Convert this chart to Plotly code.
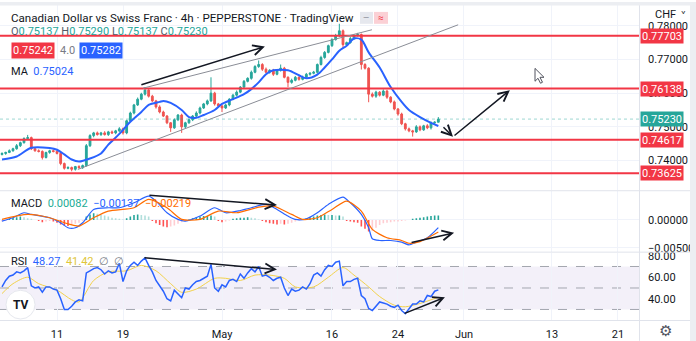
import math
from datetime import datetime, timedelta
import plotly.graph_objects as go

# ---------------- DATA (prices in units of 0.0001) ----------------
first_open = 7418
closes = [7421, 7424, 7429, 7435, 7444, 7453, 7465, 7468, 7435, 7429,
          7427, 7409, 7424, 7429, 7427, 7421, 7391, 7377, 7379, 7374,
          7382, 7379, 7385, 7444, 7474, 7482, 7477, 7482, 7477, 7485,
          7482, 7488, 7494, 7482, 7518, 7541, 7565, 7582, 7597, 7609,
          7591, 7577, 7559, 7544, 7532, 7512, 7497, 7521, 7535, 7500,
          7512, 7521, 7532, 7541, 7556, 7568, 7577, 7600, 7568, 7562,
          7556, 7565, 7582, 7594, 7603, 7618, 7635, 7644, 7662, 7679,
          7685, 7671, 7662, 7668, 7656, 7668, 7674, 7647, 7632, 7638,
          7647, 7641, 7647, 7656, 7659, 7662, 7685, 7706, 7721, 7741,
          7759, 7771, 7785, 7744, 7750, 7762, 7771, 7774, 7685, 7674,
          7597, 7591, 7603, 7594, 7606, 7588, 7574, 7553, 7538, 7509,
          7494, 7488, 7485, 7500, 7491, 7503, 7497, 7512, 7513.7, 7523]
up_wick = [3, 2, 4, 3, 5, 3, 4, 8, 3, 2,
           4, 3, 2, 3, 4, 3, 2, 3, 4, 3,
           2, 4, 3, 5, 4, 3, 4, 3, 5, 3,
           4, 3, 5, 4, 3, 4, 3, 5, 4, 9,
           3, 4, 3, 5, 4, 3, 2, 4, 3, 4,
           3, 4, 3, 5, 4, 3, 4, 47, 4, 3,
           3, 4, 3, 4, 5, 3, 4, 3, 5, 4,
           12, 4, 5, 3, 4, 3, 11, 4, 3, 5,
           4, 3, 5, 4, 3, 4, 3, 5, 4, 3,
           4, 5, 21, 4, 3, 5, 4, 5, 3, 4,
           3, 5, 4, 3, 5, 4, 3, 4, 3, 4,
           3, 4, 3, 5, 4, 3, 5, 4, 3, 6]
dn_wick = [3, 4, 2, 3, 3, 4, 3, 2, 4, 3,
           3, 6, 3, 4, 3, 3, 5, 4, 3, 6,
           4, 3, 4, 3, 4, 5, 3, 4, 3, 4,
           3, 4, 3, 5, 4, 3, 4, 3, 3, 4,
           4, 3, 5, 4, 3, 4, 12, 3, 4, 18,
           4, 3, 4, 3, 4, 3, 4, 3, 5, 4,
           12, 3, 4, 3, 4, 3, 4, 3, 4, 3,
           4, 5, 3, 4, 5, 3, 4, 3, 14, 4,
           3, 4, 3, 5, 4, 3, 4, 3, 4, 3,
           4, 3, 4, 9, 4, 3, 4, 3, 15, 4,
           24, 4, 5, 4, 3, 5, 4, 4, 5, 4,
           5, 4, 14, 3, 4, 3, 4, 5, 4, 0]

ma_bar = [0, 4, 8, 13, 15, 17, 19, 21, 24, 27, 29, 32, 35, 38, 40, 43, 44, 46, 49, 51,
          53, 55, 58, 60, 63, 66, 68, 70, 72, 74, 78, 81, 83, 86, 88, 90, 92, 94, 96, 98,
          100, 103, 106, 109, 111, 114, 117, 119]
ma_val = [7403, 7412, 7438, 7437, 7432, 7418, 7403, 7397, 7406, 7421, 7447, 7479, 7515, 7544,
          7565, 7574, 7577, 7571, 7550, 7529, 7527, 7535, 7550, 7568, 7582, 7597, 7612, 7632,
          7656, 7668, 7668, 7653, 7644, 7655, 7676, 7700, 7726, 7741, 7762, 7759, 7721, 7676,
          7618, 7574, 7550, 7529, 7512, 7502.4]

# MACD (units of 0.0001)
macd_bar = [0, 3, 6, 8, 13, 16, 18, 20, 22, 25, 29, 32, 36, 40, 42, 45, 48, 50, 54, 58,
            61, 65, 68, 72, 75, 78, 80, 83, 86, 89, 93, 95, 98, 100, 101, 103, 106, 109,
            111, 113, 116, 119]
macd_val = [-2, 4, 13, 10, 4, -5, -14, -14, -5, 19, 22, 22, 31, 43, 34, 13, 1, -2, 7, 22,
            13, 17, 22, 28, 19, 7, 1, 2, 13, 28, 41, 31, 10, -14, -34, -37, -37, -40,
            -45, -40, -32, -13.7]
sig_bar = [0, 7, 13, 18, 21, 25, 29, 36, 40, 45, 49, 54, 59, 64, 70, 74, 79, 82, 86, 90,
           94, 98, 101, 105, 109, 111, 114, 119]
sig_val = [1, 10, 4, -7, -11, 4, 16, 22, 37, 22, 1, 1, 16, 13, 23, 25, 10, 1, 4, 19,
           34, 16, -17, -32, -37, -42, -39, -21.9]
# histogram (units of 0.0001), one per bar
hist_val = [-3, -2, 2, 4, 5, 6, 5, 3,
            2, 0, -2, -4, -3, -2, -3, -5,
            -8, -10, -11, -9, -7, -5, -2,
            6, 10, 12, 11, 9, 8, 6,
            4, 3, 2, 1, 3, 6,
            9, 10, 9, 8, 6,
            -2, -6, -9, -12, -13, -12, -10,
            -7, -4, -2, 1, 3, 5,
            6, 7, 7, 8, 6,
            -2, -4, -3, -1, 2,
            3, 4, 4, 5, 4, 3,
            1, -2, -4, -6, -7, -8, -7,
            -8, -7, -5, -3, -1, 1,
            3, 5, 6, 8, 9, 10, 9, 9, 8, 8,
            6, -2, -3, -4, -5,
            -12, -16, -21, -20, -14, -9,
            -6, -5, -4, -3, -3, -2,
            -1, 0, 2, 3,
            4, 5, 6, 7, 8, 8.2]

rsi_val = [51, 57, 61, 62, 65, 64, 66, 69, 52, 50,
           51, 46, 51, 51, 49, 48, 40, 30, 30, 33,
           37, 39, 38, 64, 66, 68, 69, 67, 63, 66,
           64, 65, 73, 56, 66, 71, 74, 71, 75, 78,
           71, 65, 57, 52, 47, 40, 38, 48, 44, 41,
           50, 49, 53, 56, 57, 59, 61, 72, 50, 47,
           53, 51, 57, 58, 56, 63, 59, 64, 68, 65,
           70, 61, 62, 60, 57, 59, 60, 50, 43, 49,
           47, 48, 51, 49, 54, 62, 64, 61, 67, 71,
           70, 74, 75, 52, 56, 56, 58, 59, 43, 40,
           31, 29, 33, 37, 36, 35, 33, 32, 34, 29,
           26, 31, 35, 35, 38, 37, 43, 42, 47, 48.27]
rsima_bar = [0, 3, 7, 10, 15, 19, 21, 25, 29, 34, 38, 42, 46, 49, 53, 58, 61, 65, 69, 73,
             77, 80, 85, 89, 93, 96, 100, 103, 107, 110, 114, 119]
rsima_val = [44.8, 54, 60, 54, 48, 39, 37, 57, 65, 66, 71, 66, 54, 46, 49, 59, 59, 57, 62, 62,
             59, 51, 51, 60, 69, 62, 51, 42, 34, 32.5, 35.6, 41.42]

levels = [0.77703, 0.76138, 0.74617, 0.73625]
level_labels = ["0.77703", "0.76138", "0.74617", "0.73625"]
last_price = 0.75230
price_ticks = [0.74, 0.75, 0.76, 0.77, 0.78]
price_tick_text = ["0.74000", "0.75000", "0.76000", "0.77000", "0.78000"]
time_ticks = ["2022-04-11", "2022-04-19", "2022-05-02", "2022-05-16", "2022-05-24",
              "2022-06-01", "2022-06-13", "2022-06-21"]
time_labels = ["11", "19", "May", "16", "24", "Jun", "13", "21"]

# drawings: (bar index, value)
channel_upper = [(38.45, 7614.7), (100.9, 7788.2)]
channel_lower = [(20.7, 7373.6), (124.4, 7802.9)]
price_arrows = [((37.6, 7623.5), (71.7, 7738.2)),
                ((120.0, 7503.0), (123.0, 7470.6)),
                ((123.0, 7470.6), (138.5, 7608.8))]
macd_arrows = [((39.8, 44.6), (75.0, 26.8)), ((111.3, -41.1), (123.3, -23.2))]
rsi_arrows = [((38.45, 78.3), (75.0, 67.2)), ((109.4, 25.8), (120.8, 41.4))]

# ---------------- helpers ----------------
START = datetime(2022, 4, 4)


def bar_time(b):
    d = math.floor(b / 3)
    h = (b - 3 * d) * 8
    week, wd = divmod(d, 5)
    return START + timedelta(days=7 * week + wd, hours=h)


def ts(b):
    return bar_time(b).strftime("%Y-%m-%d %H:%M:%S")


PW, PH = 639.0, 320.0


def pxx(x):
    return x / PW


def pxy(y):
    return 1 - y / PH


FONT = "Roboto, Lato, sans-serif"
TXT = "#131722"
UP, DN = "#26a69a", "#ef5350"
BLUE, ORANGE, YELLOW, RED = "#2962ff", "#ff6d00", "#f2d24b", "#f23645"

n = len(closes)
times = [ts(i) for i in range(n)]
opens = [first_open] + closes[:-1]
highs = [max(o, c) + u for o, c, u in zip(opens, closes, up_wick)]
lows = [min(o, c) - d for o, c, d in zip(opens, closes, dn_wick)]
S = 1e-4

fig = go.Figure()
fig.add_trace(go.Candlestick(
    x=times, open=[v * S for v in opens], high=[v * S for v in highs],
    low=[v * S for v in lows], close=[v * S for v in closes],
    increasing=dict(line=dict(color=UP, width=1), fillcolor=UP),
    decreasing=dict(line=dict(color=DN, width=1), fillcolor=DN),
    whiskerwidth=0, xaxis="x", yaxis="y", showlegend=False))
fig.add_trace(go.Scatter(x=[ts(b) for b in ma_bar], y=[v * S for v in ma_val], mode="lines",
                         line=dict(color=BLUE, width=2, shape="spline", smoothing=0.8),
                         xaxis="x", yaxis="y", showlegend=False))

# MACD histogram: one stick per bar, grouped by TradingView colour rule
groups = {"#26a69a": ([], []), "#b2dfdb": ([], []), "#ff5252": ([], []), "#ffcdd2": ([], [])}
for k, h in enumerate(hist_val):
    prev = hist_val[k - 1] if k > 0 else h
    if h >= 0:
        col = "#26a69a" if h >= prev else "#b2dfdb"
    else:
        col = "#ff5252" if h < prev else "#ffcdd2"
    gx, gy = groups[col]
    gx += [times[k], times[k], None]
    gy += [0, h * S, None]
for col, (gx, gy) in groups.items():
    fig.add_trace(go.Scatter(x=gx, y=gy, mode="lines", line=dict(color=col, width=1.6),
                             connectgaps=False, xaxis="x2", yaxis="y2", showlegend=False))

fig.add_trace(go.Scatter(x=[ts(b) for b in macd_bar], y=[v * S for v in macd_val], mode="lines",
                         line=dict(color=BLUE, width=1.2, shape="spline", smoothing=0.7),
                         xaxis="x2", yaxis="y2", showlegend=False))
fig.add_trace(go.Scatter(x=[ts(b) for b in sig_bar], y=[v * S for v in sig_val], mode="lines",
                         line=dict(color=ORANGE, width=1.2, shape="spline", smoothing=0.7),
                         xaxis="x2", yaxis="y2", showlegend=False))

fig.add_trace(go.Scatter(x=[ts(b) for b in rsima_bar], y=rsima_val, mode="lines",
                         line=dict(color=YELLOW, width=1, shape="spline", smoothing=0.8),
                         xaxis="x3", yaxis="y3", showlegend=False))
fig.add_trace(go.Scatter(x=times, y=rsi_val, mode="lines", line=dict(color=BLUE, width=1.5),
                         xaxis="x3", yaxis="y3", showlegend=False))

xr = [ts(-0.545), ts(173.73)]
xcommon = dict(type="date", range=xr, rangebreaks=[dict(bounds=["sat", "mon"])],
               showgrid=True, gridcolor="#f0f3fa", gridwidth=1, zeroline=False, showline=False,
               tickvals=time_ticks, ticktext=time_labels, ticks="", fixedrange=True,
               rangeslider=dict(visible=False))
ycommon = dict(side="right", showline=False, zeroline=False, ticks="", ticklabelstandoff=8,
               tickfont=dict(size=11, color=TXT, family=FONT), fixedrange=True)

shapes = []
annotations = []

# panel borders / frame
LINEC = "#e0e3eb"
for yline in (189.5, 251.5, 320.5):
    shapes.append(dict(type="line", xref="paper", yref="paper", x0=pxx(0), x1=pxx(690),
                       y0=pxy(yline), y1=pxy(yline), line=dict(color=LINEC, width=1)))
shapes.append(dict(type="line", xref="paper", yref="paper", x0=pxx(639.5), x1=pxx(639.5),
                   y0=pxy(0), y1=pxy(341), line=dict(color=LINEC, width=1)))
shapes.append(dict(type="rect", xref="paper", yref="paper", x0=pxx(690), x1=pxx(697),
                   y0=pxy(-1), y1=pxy(342), fillcolor="#eceef2", line=dict(width=0)))
shapes.append(dict(type="rect", xref="paper", yref="paper", x0=pxx(-1), x1=pxx(697),
                   y0=pxy(2.5), y1=pxy(-1), fillcolor="#eceef2", line=dict(width=0)))

# RSI band and dashed lines
shapes.append(dict(type="rect", xref="x3 domain", yref="y3", x0=0, x1=1, y0=30, y1=70,
                   fillcolor="rgba(126,87,194,0.09)", line=dict(width=0), layer="below"))
for lv in (70, 50, 30):
    shapes.append(dict(type="line", xref="x3 domain", yref="y3", x0=0, x1=1, y0=lv, y1=lv,
                       line=dict(color="#a3a6af", width=1, dash="dash"), layer="below"))

# current price line
shapes.append(dict(type="line", xref="x domain", yref="y", x0=0, x1=1, y0=last_price, y1=last_price,
                   line=dict(color="rgba(38,166,154,0.45)", width=1, dash="dot")))

# horizontal levels
for lv in levels:
    shapes.append(dict(type="line", xref="x domain", yref="y", x0=0, x1=1, y0=lv, y1=lv,
                       line=dict(color=RED, width=2)))

# channel
for (b0, v0), (b1, v1) in (channel_upper, channel_lower):
    shapes.append(dict(type="line", xref="x", yref="y", x0=ts(b0), x1=ts(b1), y0=v0 * S, y1=v1 * S,
                       line=dict(color="#8a8d96", width=1)))

# arrows
def add_arrow(tail, head, ax, ay, scale):
    annotations.append(dict(x=ts(head[0]), y=head[1] * scale, ax=ts(tail[0]), ay=tail[1] * scale,
                            xref=ax, yref=ay, axref=ax, ayref=ay, text="", showarrow=True,
                            arrowhead=5, arrowsize=1.3, arrowwidth=1.5, arrowcolor="#131722"))


for t, h in price_arrows:
    add_arrow(t, h, "x", "y", S)
for t, h in macd_arrows:
    add_arrow(t, h, "x2", "y2", S)
for t, h in rsi_arrows:
    add_arrow(t, h, "x3", "y3", 1)


def txt(x, y, text, size=11, color=TXT, anchor="left", **kw):
    d = dict(x=pxx(x), y=pxy(y), xref="paper", yref="paper", text=text, showarrow=False,
             xanchor=anchor, yanchor="middle", font=dict(size=size, color=color, family=FONT))
    d.update(kw)
    annotations.append(d)


txt(9, 15, "Canadian Dollar vs Swiss Franc · 4h · PEPPERSTONE · TradingView", size=11.6)
g = "<span style='color:#26a69a'>%s</span>"
txt(9, 29, "O" + g % "0.75137" + " H" + g % "0.75290" + " L" + g % "0.75137" + " C" + g % "0.75230",
    size=11, color="#555a66")
txt(32.5, 47.5, "0.75242", color="white", anchor="center", bgcolor=RED, width=40, height=13, borderpad=1)
txt(67, 47.5, "4.0", color="#787b86", anchor="center")
txt(100.5, 47.5, "0.75282", color="white", anchor="center", bgcolor=BLUE, width=40, height=13, borderpad=1)
txt(9, 69, "MA  <span style='color:#2962ff'>0.75024</span>")
txt(9, 202, "MACD  <span style='color:#22ab94'>0.00082</span>  <span style='color:#2962ff'>−0.00137</span>"
            "  <span style='color:#ff6d00'>−0.00219</span>")
txt(9, 261, "RSI  <span style='color:#2962ff'>48.27</span>  <span style='color:#e0c63a'>41.42</span>"
            "  <span style='color:#787b86'>∅  ∅</span>")

# header pills
shapes.append(dict(type="rect", xref="paper", yref="paper", x0=pxx(360), x1=pxx(373), y0=pxy(21),
                   y1=pxy(9), fillcolor="#e6e8ee", line=dict(width=0)))
shapes.append(dict(type="rect", xref="paper", yref="paper", x0=pxx(374), x1=pxx(388), y0=pxy(21),
                   y1=pxy(9), fillcolor="#fbd0d5", line=dict(width=0)))
txt(366.5, 15, "—", size=8, color="#787b86", anchor="center")
txt(381, 15, "≈", size=10, color=RED, anchor="center")

# right axis header
txt(653, 12, "CHF", size=11)
txt(683, 12, "˅", size=10, anchor="center")

# price labels on the axis
for lv, lab in zip(levels, level_labels):
    annotations.append(dict(x=pxx(640), y=lv, xref="paper", yref="y", text=lab, showarrow=False,
                            xanchor="left", yanchor="middle", bgcolor=RED, width=40, height=12,
                            borderpad=1, font=dict(size=11, color="white", family=FONT)))
annotations.append(dict(x=pxx(640), y=last_price, xref="paper", yref="y", text="0.75230",
                        showarrow=False, xanchor="left", yanchor="middle", bgcolor=UP, width=40,
                        height=12, borderpad=1, font=dict(size=11, color="white", family=FONT)))

# TradingView logo
shapes.append(dict(type="circle", xref="paper", yref="paper", x0=pxx(6), x1=pxx(35), y0=pxy(319),
                   y1=pxy(290), fillcolor="white", line=dict(color="#e6e8ee", width=1)))
txt(20.5, 305, "<b>TV</b>", size=12, color="#131722", anchor="center")

# gear icon
txt(665, 331, "⚙", size=15, color="#50535e", anchor="center")

# mouse cursor
cur = [(535, 66), (535, 79), (538, 76), (540.5, 81), (542.5, 80), (540, 75), (544, 75)]
path = "M" + " L".join("%.5f,%.5f" % (pxx(a), pxy(b)) for a, b in cur) + " Z"
shapes.append(dict(type="path", xref="paper", yref="paper", path=path, fillcolor="white",
                   line=dict(color="#50535e", width=1)))

fig.update_layout(
    width=696, height=341, margin=dict(l=0, r=57, t=0, b=21),
    paper_bgcolor="white", plot_bgcolor="white", showlegend=False,
    font=dict(family=FONT, size=11, color=TXT),
    xaxis=dict(xcommon, anchor="y", showticklabels=False),
    xaxis2=dict(xcommon, anchor="y2", showticklabels=False),
    xaxis3=dict(xcommon, anchor="y3", showticklabels=True, ticklabelstandoff=6,
                tickfont=dict(size=11, color=TXT, family=FONT)),
    yaxis=dict(ycommon, domain=[0.409375, 1.0], range=[0.73118, 0.78676], tickvals=price_ticks,
               ticktext=price_tick_text, showgrid=True, gridcolor="#f0f3fa"),
    yaxis2=dict(ycommon, domain=[0.215625, 0.40625], range=[-0.005714, 0.00518], tickvals=[0, -0.005],
                ticktext=["0.00000", "−0.00500"], showgrid=True, gridcolor="#f0f3fa"),
    yaxis3=dict(ycommon, domain=[0.0, 0.2125], range=[20.2, 82.9], tickvals=[40, 60, 80],
                ticktext=["40.00", "60.00", "80.00"], showgrid=False),
    shapes=shapes, annotations=annotations,
)

fig.write_html("out.html")
